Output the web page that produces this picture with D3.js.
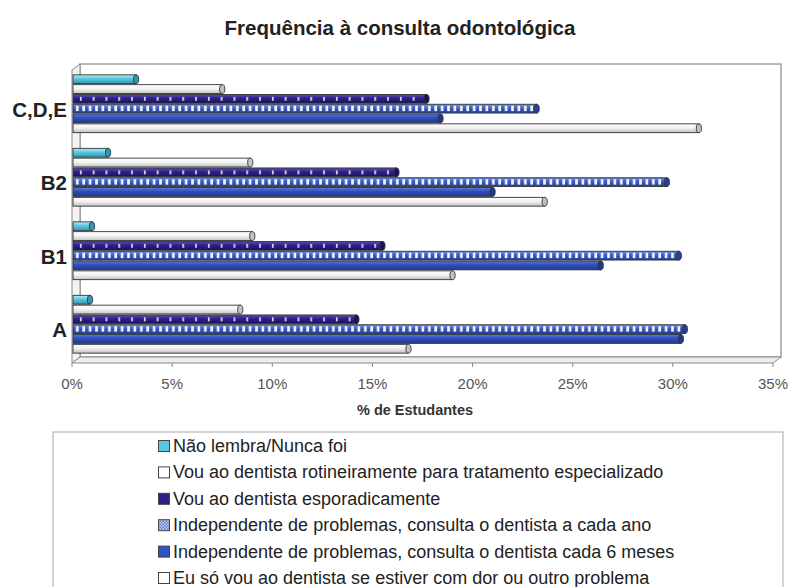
<!DOCTYPE html>
<html>
<head>
<meta charset="utf-8">
<script src="https://cdn.jsdelivr.net/npm/d3@7"></script>
<style>
  body { margin: 0; background: #fff; }
  svg { font-family: "Liberation Sans", Arial, sans-serif; }
</style>
</head>
<body>
<div id="chart"></div>
<script>
// data (percent of students)
var categories = ["C,D,E", "B2", "B1", "A"];
var seriesKeys = ["nao", "rot", "esp", "ano", "seis", "dor"];
var seriesNames = [
    "Não lembra/Nunca foi",
    "Vou ao dentista rotineiramente para tratamento especializado",
    "Vou ao dentista esporadicamente",
    "Independente de problemas, consulta o dentista a cada ano",
    "Independente de problemas, consulta o dentista cada 6 meses",
    "Eu só vou ao dentista se estiver com dor ou outro problema"
];
var naoLembra  = [3.2, 1.8, 1.0, 0.9];
var rotineira  = [7.5, 8.9, 9.0, 8.4];
var esporadica = [17.7, 16.2, 15.5, 14.2];
var cadaAno    = [23.2, 29.7, 30.3, 30.6];
var seisMeses  = [18.4, 21.0, 26.4, 30.4];
var soComDor   = [31.3, 23.6, 19.0, 16.8];
var xTicks = [0, 5, 10, 15, 20, 25, 30, 35];

var seriesValues = [naoLembra, rotineira, esporadica, cadaAno, seisMeses, soComDor];

var width = 791, height = 587;

var svg = d3.select("#chart").append("svg")
    .attr("width", width)
    .attr("height", height);

var defs = svg.append("defs");

// cylinder-ish gradients
var grads = {
    nao:  ["#b8ecf7", "#5cc6df", "#2e98b5"],
    rot:  ["#ffffff", "#f4f4f4", "#c4c4c4"],
    esp:  ["#5a4fb0", "#2c2185", "#1a1260"],
    ano:  ["#6f8ee0", "#3a5cc4", "#23409a"],
    seis: ["#5a78d8", "#2f4fb8", "#1f3890"],
    dor:  ["#ffffff", "#f2f2f2", "#c0c0c0"]
};
seriesKeys.forEach(function(k) {
    var g = defs.append("linearGradient")
        .attr("id", "g-" + k)
        .attr("x1", 0).attr("y1", 0).attr("x2", 0).attr("y2", 1);
    g.append("stop").attr("offset", "0%").attr("stop-color", grads[k][0]);
    g.append("stop").attr("offset", "45%").attr("stop-color", grads[k][1]);
    g.append("stop").attr("offset", "100%").attr("stop-color", grads[k][2]);
});

// white marks on the purple bar
var pEsp = defs.append("pattern")
    .attr("id", "p-esp")
    .attr("patternUnits", "userSpaceOnUse")
    .attr("x", 74).attr("y", 0)
    .attr("width", 12.8).attr("height", 1000);
pEsp.append("rect").attr("x", 6).attr("y", 0).attr("width", 1.6).attr("height", 1000).attr("fill", "#e8e8f4");

// white stripes on the yearly bar
var pAno = defs.append("pattern")
    .attr("id", "p-ano")
    .attr("patternUnits", "userSpaceOnUse")
    .attr("x", 74).attr("y", 0)
    .attr("width", 6.4).attr("height", 1000);
pAno.append("rect").attr("x", 2).attr("y", 0).attr("width", 2.6).attr("height", 1000).attr("fill", "#f4f6fb");

var x = d3.scaleLinear()
    .domain([0, 35])
    .range([72, 773]);

var y0 = d3.scaleBand()
    .domain(categories)
    .range([67, 361])
    .paddingInner(0.2)
    .paddingOuter(0.1);

var y1 = d3.scaleBand()
    .domain(seriesKeys)
    .range([0, y0.bandwidth()]);

// title
svg.append("text")
    .attr("x", 400)
    .attr("y", 35)
    .attr("text-anchor", "middle")
    .attr("font-size", 20.5)
    .attr("font-weight", "bold")
    .attr("fill", "#222")
    .text("Frequência à consulta odontológica");

// 3D frame: back wall, side wall, floor
svg.append("rect")
    .attr("x", 80).attr("y", 64)
    .attr("width", 701).attr("height", 293)
    .attr("fill", "#fff")
    .attr("stroke", "#a59f99")
    .attr("stroke-width", 1.5);

svg.append("polygon")
    .attr("points", "72,70 80,64 80,357 72,363")
    .attr("fill", "#f3f3f3")
    .attr("stroke", "#8a8a8a");

svg.append("polygon")
    .attr("points", "72,363 80,357 781,357 773,363")
    .attr("fill", "#eeeeee")
    .attr("stroke", "#8a8a8a");

// ticks on the floor
svg.append("g").selectAll("line")
    .data(xTicks)
    .join("line")
    .attr("x1", d => x(d)).attr("x2", d => x(d))
    .attr("y1", 363).attr("y2", 367)
    .attr("stroke", "#888");

// tick labels
svg.append("g").selectAll("text")
    .data(xTicks)
    .join("text")
    .attr("x", d => x(d))
    .attr("y", 389)
    .attr("text-anchor", "middle")
    .attr("font-size", 15)
    .attr("fill", "#555")
    .text(d => d + "%");

svg.append("text")
    .attr("x", 415)
    .attr("y", 415)
    .attr("text-anchor", "middle")
    .attr("font-size", 14.5)
    .attr("font-weight", "bold")
    .attr("fill", "#333")
    .text("% de Estudantes");

// category labels
svg.append("g").selectAll("text")
    .data(categories)
    .join("text")
    .attr("x", 67)
    .attr("y", d => y0(d) + y0.bandwidth() / 2 + 13)
    .attr("text-anchor", "end")
    .attr("font-size", 20.5)
    .attr("font-weight", "bold")
    .attr("fill", "#222")
    .text(d => d);

// bars
var rows = [];
categories.forEach(function(c, i) {
    seriesKeys.forEach(function(k, j) {
        rows.push({cat: c, key: k, value: seriesValues[j][i]});
    });
});

var h = y1.bandwidth();

var bar = svg.append("g").selectAll("g")
    .data(rows)
    .join("g")
    .attr("transform", d => `translate(0,${y0(d.cat) + y1(d.key)})`);

bar.append("rect")
    .attr("x", 73)
    .attr("y", 0.5)
    .attr("width", d => x(d.value) - 73)
    .attr("height", h - 1)
    .attr("fill", d => `url(#g-${d.key})`)
    .attr("stroke", "#333")
    .attr("stroke-width", 0.9);

bar.filter(d => d.key === "esp").append("rect")
    .attr("x", 74)
    .attr("y", h * 0.3)
    .attr("width", d => x(d.value) - 76)
    .attr("height", h * 0.4)
    .attr("fill", "url(#p-esp)");

bar.filter(d => d.key === "ano").append("rect")
    .attr("x", 74)
    .attr("y", h * 0.2)
    .attr("width", d => x(d.value) - 76)
    .attr("height", h * 0.55)
    .attr("fill", "url(#p-ano)");

// rounded end caps
bar.append("ellipse")
    .attr("cx", d => x(d.value))
    .attr("cy", h / 2)
    .attr("rx", 2.6)
    .attr("ry", (h - 1) / 2)
    .attr("fill", d => grads[d.key][2])
    .attr("stroke", "#333")
    .attr("stroke-width", 0.9);

// legend
var legend = svg.append("g");

legend.append("rect")
    .attr("x", 53).attr("y", 432)
    .attr("width", 730).attr("height", 180)
    .attr("fill", "#fff")
    .attr("stroke", "#aaa");

var swatch = {
    nao: "#5cc6df", rot: "#fff", esp: "#2c2185",
    ano: "url(#p-leg)", seis: "#2f55c0", dor: "#fff"
};
var pLeg = defs.append("pattern")
    .attr("id", "p-leg")
    .attr("patternUnits", "userSpaceOnUse")
    .attr("width", 3).attr("height", 3);
pLeg.append("rect").attr("width", 3).attr("height", 3).attr("fill", "#dde3f5");
pLeg.append("rect").attr("width", 1.5).attr("height", 1.5).attr("fill", "#4a66c4");
pLeg.append("rect").attr("x", 1.5).attr("y", 1.5).attr("width", 1.5).attr("height", 1.5).attr("fill", "#4a66c4");

var item = legend.selectAll("g")
    .data(seriesKeys)
    .join("g")
    .attr("transform", (d, i) => `translate(158,${446 + i * 26.4})`);

item.append("rect")
    .attr("x", 0.5).attr("y", -5.5)
    .attr("width", 11).attr("height", 11)
    .attr("fill", d => swatch[d])
    .attr("stroke", "#444");

item.append("text")
    .attr("x", 15)
    .attr("y", 6)
    .attr("font-size", 18)
    .attr("fill", "#222")
    .text((d, i) => seriesNames[i]);
</script>
</body>
</html>
